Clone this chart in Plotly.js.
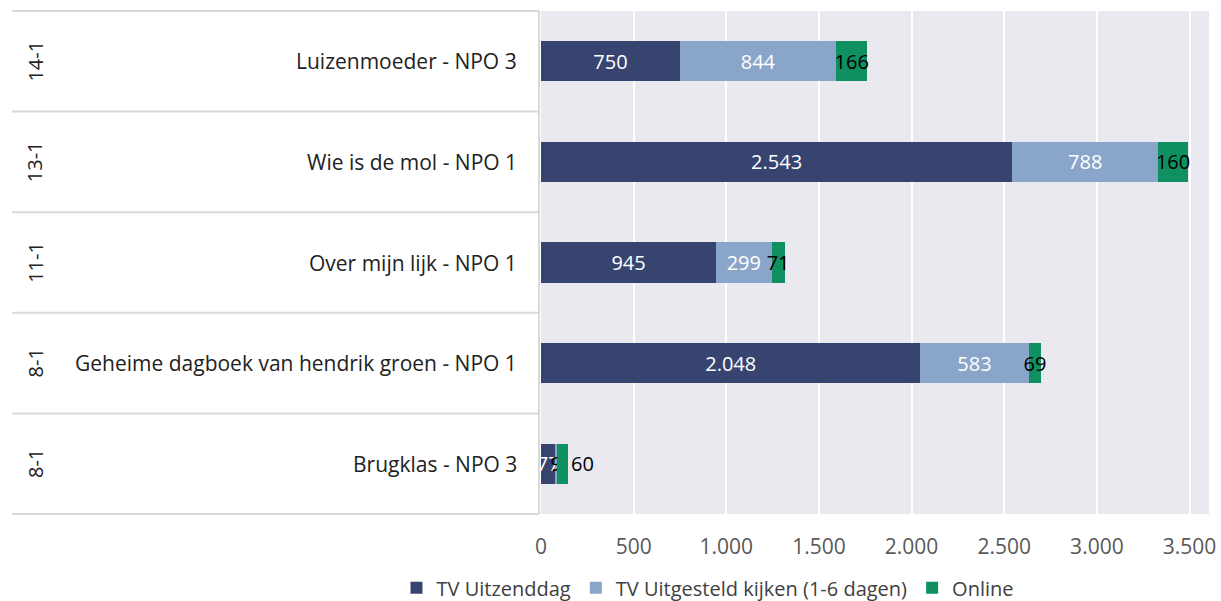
<!DOCTYPE html>
<html>
<head>
<meta charset="utf-8">
<script src="https://cdn.plot.ly/plotly-3.0.1.min.js"></script>
<style>html,body{margin:0;padding:0;background:#fff}#chart{width:1221px;height:601px}</style>
</head>
<body>
<div id="chart"></div>
<script>
const shows = ["Luizenmoeder - NPO 3", "Wie is de mol - NPO 1", "Over mijn lijk - NPO 1", "Geheime dagboek van hendrik groen - NPO 1", "Brugklas - NPO 3"];
const dates = ["14-1", "13-1", "11-1", "8-1", "8-1"];
const tvUitzenddag = [750, 2543, 945, 2048, 77];
const tvUitgesteld = [844, 788, 299, 583, 9];
const online = [166, 160, 71, 69, 60];
const seriesNames = ["TV Uitzenddag", "TV Uitgesteld kijken (1-6 dagen)", "Online"];
const xTicks = [0, 500, 1000, 1500, 2000, 2500, 3000, 3500];

const FONT = "'Open Sans', sans-serif";
const traces = [
  {name: seriesNames[0], x: tvUitzenddag, marker: {color: "#374470"}, textfont: {color: "#ffffff"}},
  {name: seriesNames[1], x: tvUitgesteld, marker: {color: "#8AA5CA"},
   textfont: {color: tvUitgesteld.map((v, i) => i === tvUitgesteld.length - 1 ? "#000000" : "#ffffff")}},
  {name: seriesNames[2], x: online, marker: {color: "#0F9060"}, textfont: {color: "#000000"},
   textposition: online.map((v, i) => i === online.length - 1 ? "outside" : "inside")}
].map(t => Object.assign({
  type: "bar", orientation: "h", y: shows,
  texttemplate: "%{x:,d}", textposition: "inside", insidetextanchor: "middle", textangle: 0,
  constraintext: "none", cliponaxis: false, hoverinfo: "x+name"
}, t, {textfont: Object.assign({size: 20, family: FONT}, t.textfont), outsidetextfont: {size: 20, color: "#000000", family: FONT}}));

const shapes = [];
for (let k = 0; k <= shows.length; k++) {
  shapes.push({type: "line", xref: "paper", yref: "paper", x0: -0.792, x1: -0.003, y0: k / shows.length, y1: k / shows.length,
    line: {color: "#D9D9D9", width: 2}});
}
shapes.push({type: "line", xref: "paper", yref: "paper", x0: -0.003, x1: -0.003, y0: 0, y1: 1, line: {color: "#D9D9D9", width: 2}});

const annotations = [];
shows.forEach((s, i) => {
  annotations.push({xref: "paper", yref: "y", x: 0, y: s, xanchor: "right", xshift: -22, text: s, showarrow: false,
    font: {size: 21, color: "#222222", family: FONT}});
  annotations.push({xref: "paper", yref: "y", x: -0.757, y: s, xanchor: "center", yanchor: "middle", text: dates[i], textangle: -90, showarrow: false,
    font: {size: 20, color: "#222222", family: FONT}});
});

const layout = {
  width: 1221, height: 601,
  margin: {l: 541, r: 12, t: 11, b: 87},
  paper_bgcolor: "#ffffff", plot_bgcolor: "#EAE9EF",
  separators: ",.",
  barmode: "stack", bargap: 0.6,
  font: {family: FONT, color: "#595959"},
  xaxis: {range: [0, 3605], tickvals: xTicks, tickformat: ",d", showgrid: true, gridcolor: "#ffffff", gridwidth: 2,
    zeroline: false, showline: false, ticks: "", tickfont: {size: 21, color: "#595959"}, ticklabelstandoff: 18, fixedrange: true},
  yaxis: {autorange: "reversed", showticklabels: false, showgrid: false, zeroline: false, showline: false, ticks: "", fixedrange: true},
  uniformtext: {mode: "show", minsize: 20},
  showlegend: true,
  legend: {orientation: "h", xref: "container", xanchor: "center", yref: "container", y: 0.022, yanchor: "middle",
    font: {size: 20, color: "#404040"}, itemwidth: 30, traceorder: "normal"},
  shapes: shapes, annotations: annotations
};
layout.legend.x = 708 / 1221;

Plotly.newPlot("chart", traces, layout, {displayModeBar: false, staticPlot: true});
</script>
</body>
</html>
